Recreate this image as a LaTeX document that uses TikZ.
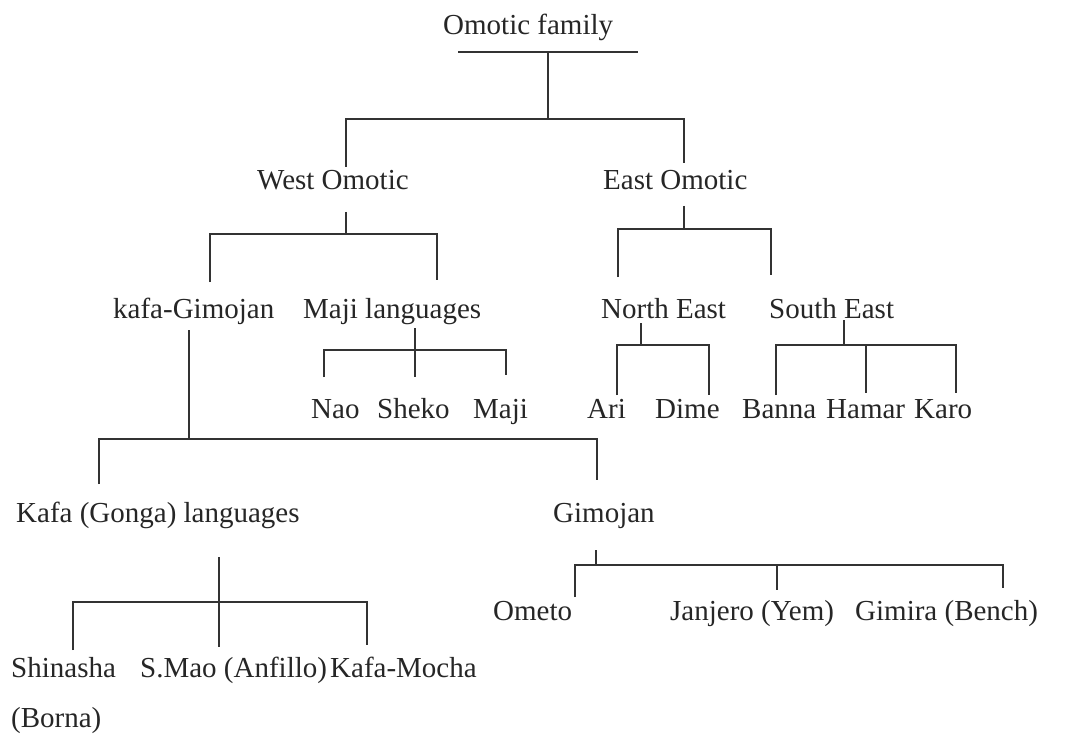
\documentclass[tikz,border=0pt]{standalone}
\usepackage{fontspec}
\setmainfont{Liberation Serif}
\begin{document}
\begin{tikzpicture}[x=1pt,y=-1pt,
  lbl/.style={anchor=base west, inner sep=0pt, font=\fontsize{29}{34}\selectfont, text=black!85},
  br/.style={draw=black!80, line width=1.3pt}]
\useasboundingbox[fill=white] (0,0) rectangle (1083,735);
% labels
\node[lbl] (root) at (443,35) {Omotic family};
\node[lbl] (west) at (257,190) {West Omotic};
\node[lbl] (east) at (603,190) {East Omotic};
\node[lbl] (kg) at (113,318) {kafa-Gimojan};
\node[lbl] (majil) at (303,318) {Maji languages};
\node[lbl] (ne) at (601,318) {North East};
\node[lbl] (se) at (769,318) {South East};
\node[lbl] (nao) at (311,418) {Nao};
\node[lbl] (sheko) at (377,418) {Sheko};
\node[lbl] (maji) at (473,418) {Maji};
\node[lbl] (ari) at (587,418) {Ari};
\node[lbl] (dime) at (655,418) {Dime};
\node[lbl] (banna) at (742,418) {Banna};
\node[lbl] (hamar) at (826,418) {Hamar};
\node[lbl] (karo) at (914,418) {Karo};
\node[lbl] (kafal) at (16,522) {Kafa (Gonga) languages};
\node[lbl] (gim) at (553,522) {Gimojan};
\node[lbl] (ometo) at (493,620) {Ometo};
\node[lbl] (janj) at (670,620) {Janjero (Yem)};
\node[lbl] (gimira) at (855,620) {Gimira (Bench)};
\node[lbl] (shin) at (11,677) {Shinasha};
\node[lbl] (smao) at (140,677) {S.Mao (Anfillo)};
\node[lbl] (kmoc) at (330,677) {Kafa-Mocha};
\node[lbl] (borna) at (11,727) {(Borna)};
% root
\coordinate (rL) at (458,52); \coordinate (rR) at (638,52); \coordinate (rM) at (548,52);
\coordinate (rJ) at (548,119);
\coordinate (rbL) at (346,119); \coordinate (rbR) at (684,119);
\coordinate (rdL) at (346,167); \coordinate (rdR) at (684,163);
\draw[br] (rL) -- (rR);
\draw[br] (rM) -- (rJ);
\draw[br] (rdL) -- (rbL) -- (rbR) -- (rdR);
% west
\coordinate (wT) at (346,212); \coordinate (wJ) at (346,234);
\coordinate (wbL) at (210,234); \coordinate (wbR) at (437,234);
\coordinate (wdL) at (210,282); \coordinate (wdR) at (437,280);
\draw[br] (wT) -- (wJ);
\draw[br] (wdL) -- (wbL) -- (wbR) -- (wdR);
% east
\coordinate (eT) at (684,206); \coordinate (eJ) at (684,229);
\coordinate (ebL) at (618,229); \coordinate (ebR) at (771,229);
\coordinate (edL) at (618,277); \coordinate (edR) at (771,275);
\draw[br] (eT) -- (eJ);
\draw[br] (edL) -- (ebL) -- (ebR) -- (edR);
% maji languages
\coordinate (mT) at (415,328); \coordinate (mB) at (415,377);
\coordinate (mbL) at (324,350); \coordinate (mbR) at (506,350);
\coordinate (mdL) at (324,377); \coordinate (mdR) at (506,375);
\draw[br] (mT) -- (mB);
\draw[br] (mdL) -- (mbL) -- (mbR) -- (mdR);
% north east
\coordinate (nT) at (641,323); \coordinate (nJ) at (641,345);
\coordinate (nbL) at (617,345); \coordinate (nbR) at (709,345);
\coordinate (ndL) at (617,395); \coordinate (ndR) at (709,395);
\draw[br] (nT) -- (nJ);
\draw[br] (ndL) -- (nbL) -- (nbR) -- (ndR);
% south east
\coordinate (sT) at (844,320); \coordinate (sJ) at (844,345);
\coordinate (sbL) at (776,345); \coordinate (sbR) at (956,345);
\coordinate (sM) at (866,345);
\coordinate (sdL) at (776,395); \coordinate (sdM) at (866,393); \coordinate (sdR) at (956,393);
\draw[br] (sT) -- (sJ);
\draw[br] (sdL) -- (sbL) -- (sbR) -- (sdR);
\draw[br] (sM) -- (sdM);
% kafa-gimojan
\coordinate (kT) at (189,330); \coordinate (kJ) at (189,439);
\coordinate (kbL) at (99,439); \coordinate (kbR) at (597,439);
\coordinate (kdL) at (99,484); \coordinate (kdR) at (597,480);
\draw[br] (kT) -- (kJ);
\draw[br] (kdL) -- (kbL) -- (kbR) -- (kdR);
% kafa languages
\coordinate (fT) at (219,557); \coordinate (fB) at (219,647);
\coordinate (fbL) at (73,602); \coordinate (fbR) at (367,602);
\coordinate (fdL) at (73,650); \coordinate (fdR) at (367,645);
\draw[br] (fT) -- (fB);
\draw[br] (fdL) -- (fbL) -- (fbR) -- (fdR);
% gimojan
\coordinate (gT) at (596,550); \coordinate (gJ) at (596,565);
\coordinate (gbL) at (575,565); \coordinate (gbR) at (1003,565);
\coordinate (gM) at (777,565);
\coordinate (gdL) at (575,597); \coordinate (gdM) at (777,590); \coordinate (gdR) at (1003,588);
\draw[br] (gT) -- (gJ);
\draw[br] (gdL) -- (gbL) -- (gbR) -- (gdR);
\draw[br] (gM) -- (gdM);
\end{tikzpicture}
\end{document}
